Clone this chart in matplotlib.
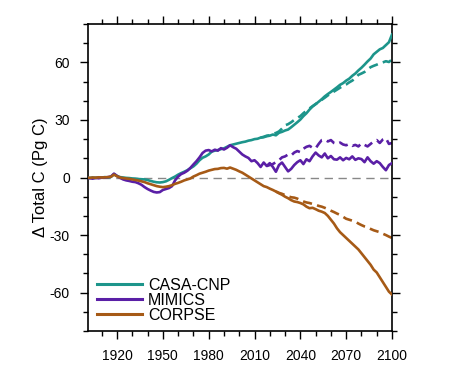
import numpy as np
import matplotlib
matplotlib.use("Agg")
import matplotlib.pyplot as plt
from matplotlib.ticker import MultipleLocator

plt.rcParams['font.family'] = ['Liberation Sans', 'DejaVu Sans']
plt.rcParams['axes.unicode_minus'] = False

years = list(range(1900, 2101, 2))

casa_hist = [0, -0.3, 0, -0.2, 0.1, 0, 0.2, 0, 0.3, 1.8,
             0.8, 0.2, 0, -0.2, -0.3, -0.5, -0.6, -0.8, -0.9, -1.0,
             -1.3, -1.8, -2.2, -2.5, -2.6, -2.4, -2.0, -1.2, -0.3, 0.5,
             1.5, 2.3, 3.0, 3.8, 4.8, 5.8, 7.2, 9.0, 10.3, 11.0,
             12.0, 13.5, 14.0, 14.3, 14.8, 15.2, 16.0, 16.8, 17.2, 17.6,
             18.0, 18.4, 18.7, 19.2, 19.5, 20.0, 20.2, 20.8, 21.0, 21.5,
             21.8, 22.4, 22.0, 23.3, 23.8, 24.5, 25.0, 26.2, 27.5, 28.8,
             30.2, 32.0, 33.5, 35.4, 37.0, 38.2, 39.5, 40.8, 42.3, 43.5,
             44.6, 45.8, 47.0, 48.3, 49.2, 50.5, 51.5, 53.0, 54.2, 55.8,
             57.2, 58.8, 60.5, 62.0, 64.2, 65.5, 66.8, 67.5, 69.0, 70.5,
             74.5]

mimics_hist = [-0.5, -0.3, -0.6, -0.2, -0.4, -0.1, 0, 0.2, 0.5, 2.0,
               0.8, -0.2, -1.0, -1.5, -1.8, -2.2, -2.4, -3.0, -3.8, -5.0,
               -6.0, -6.8, -7.5, -7.8, -7.6, -6.5, -6.0, -5.5, -4.5, -1.5,
               0.5, 1.8, 2.5, 3.5, 5.0, 6.8, 8.5, 10.5, 12.8, 14.0,
               14.3, 13.6, 14.5, 14.0, 15.3, 14.6, 15.5, 16.8, 15.8, 15.0,
               13.5, 12.0, 11.0, 10.2, 8.5, 9.0, 7.5, 5.5, 7.8, 6.0,
               7.5, 5.5, 3.0, 6.5, 7.8, 5.5, 3.2, 4.5, 6.5, 8.0,
               9.0, 7.0, 9.5, 8.5, 11.0, 13.0, 11.5, 10.5, 12.5, 10.0,
               11.2, 9.5, 9.3, 10.5, 9.0, 10.2, 9.5, 11.0, 9.2, 10.0,
               9.6, 8.0, 10.5, 8.5, 7.2, 8.5, 7.5, 5.5, 3.8, 6.5,
               7.5]

corpse_hist = [0, -0.2, 0, -0.1, 0.1, 0, 0.1, 0.2, 0.4, 1.5,
               0.6, 0, -0.3, -0.5, -0.7, -1.0, -1.3, -1.6, -2.0, -2.4,
               -3.0, -3.5, -4.0, -4.5, -4.8, -5.0, -4.8, -4.5, -4.0, -3.3,
               -2.8, -2.2, -1.5, -1.0, -0.5, 0.5, 1.2, 2.0, 2.5, 3.0,
               3.6, 4.0, 4.4, 4.5, 4.9, 5.0, 4.6, 5.2, 4.6, 4.0,
               3.2, 2.5, 1.5, 0.5, -0.5, -1.5, -2.5, -3.5, -4.5, -5.0,
               -5.8, -6.5, -7.3, -8.2, -9.0, -10.0, -10.8, -11.8, -12.5, -12.8,
               -13.3, -14.0, -15.2, -16.0, -15.8, -16.5, -17.3, -17.8, -18.5, -20.0,
               -22.0, -24.0, -26.5, -28.5, -30.0, -31.5, -33.0, -34.5, -36.0, -37.5,
               -39.5, -41.5, -43.5, -45.5, -48.0, -49.5, -52.0, -54.5, -57.0, -59.5,
               -61.0]

casa_alt_years = list(range(2014, 2101, 2))
casa_alt = [20.8, 21.2, 21.8, 22.0, 22.8, 23.2, 24.0, 25.5, 27.2, 27.8,
            28.8, 30.0, 31.0, 32.0, 33.5, 34.8, 36.0, 37.2, 38.3, 39.4,
            40.5, 41.6, 42.8, 43.8, 44.8, 45.8, 46.8, 47.8, 48.5, 49.6,
            50.5, 51.8, 53.5, 54.2, 55.0, 56.3, 57.5, 58.2, 58.8, 59.5,
            60.0, 60.6, 60.2, 61.5]

mimics_alt_years = list(range(2018, 2101, 2))
mimics_alt = [6.0, 6.5, 7.0, 8.0, 9.0, 10.5, 11.0, 12.0, 11.5, 13.0,
              13.8, 13.2, 15.0, 16.0, 16.5, 15.5, 15.2, 17.5, 19.5, 19.8,
              18.8, 19.5, 18.0, 17.5, 18.2, 17.2, 16.8, 17.5, 16.5, 17.0,
              16.2, 17.8, 17.0, 16.2, 17.5, 18.8, 19.5, 18.0, 19.8, 20.5,
              17.5, 18.0]

corpse_alt_years = list(range(2024, 2101, 2))
corpse_alt = [-7.3, -8.0, -8.5, -9.2, -9.8, -10.3, -10.5, -11.0, -11.8, -12.5,
              -13.0, -13.3, -13.8, -14.2, -14.8, -15.2, -15.8, -16.5, -17.3, -18.0,
              -18.8, -19.5, -20.5, -21.5, -22.0, -22.5, -23.0, -24.0, -24.8, -25.5,
              -26.0, -26.8, -27.5, -28.0, -28.5, -29.3, -30.0, -30.8, -31.5]

labels = ["CASA-CNP", "MIMICS", "CORPSE"]
colors = ["#1d958b", "#5a1fa6", "#a65a16"]

x_ticks = [1920, 1950, 1980, 2010, 2040, 2070, 2100]
y_ticks = [-60, -30, 0, 30, 60]

fig = plt.figure(figsize=(4.5, 3.71), dpi=100)
ax = fig.add_axes([0.1956, 0.1078, 0.6755, 0.8275])

ax.axhline(0, color="#888888", lw=1.0, ls=(0, (6, 4)), zorder=1)

lw = 1.9
for yrs, vals, c in [(casa_alt_years, casa_alt, colors[0]),
                     (mimics_alt_years, mimics_alt, colors[1]),
                     (corpse_alt_years, corpse_alt, colors[2])]:
    ax.plot(yrs, vals, color=c, lw=lw, ls=(0, (3.5, 2)), zorder=2)

handles = []
for vals, c, lab in [(casa_hist, colors[0], labels[0]),
                     (mimics_hist, colors[1], labels[1]),
                     (corpse_hist, colors[2], labels[2])]:
    h, = ax.plot(years, vals, color=c, lw=lw, label=lab, zorder=3)
    handles.append(h)

ax.set_xlim(1901, 2100)
ax.set_ylim(-80, 80)
ax.set_xticks(x_ticks)
ax.set_yticks(y_ticks)
ax.xaxis.set_minor_locator(MultipleLocator(10))
ax.yaxis.set_minor_locator(MultipleLocator(10))
ax.tick_params(which='both', direction='out', top=True, right=True,
               labeltop=False, labelright=False, labelsize=10, width=1.0)
ax.tick_params(which='major', length=6, pad=7)
ax.tick_params(which='minor', length=3.5)
for s in ax.spines.values():
    s.set_linewidth(1.2)

ax.set_ylabel("Δ Total C (Pg C)", fontsize=12, labelpad=1)

leg = ax.legend(handles=handles, loc='lower left', frameon=False,
                fontsize=11.5, handlelength=2.8, handletextpad=0.35,
                labelspacing=0.0, borderaxespad=0.0,
                bbox_to_anchor=(0.01, 0.005))
for l in leg.get_lines():
    l.set_linewidth(2.2)

fig.savefig("out.png", dpi=100)
